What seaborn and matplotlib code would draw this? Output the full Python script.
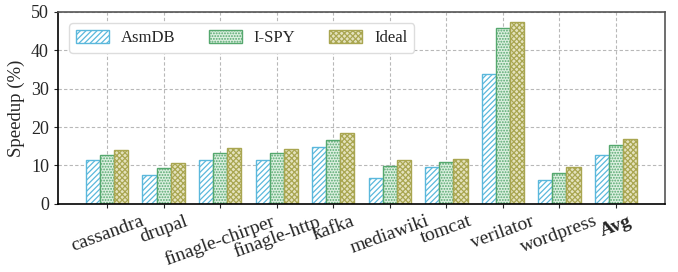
import pandas as pd
import matplotlib
matplotlib.use('Agg')
import matplotlib.pyplot as plt
import seaborn as sns

# --- data ---
benchmarks = ['cassandra', 'drupal', 'finagle-chirper', 'finagle-http', 'kafka',
              'mediawiki', 'tomcat', 'verilator', 'wordpress', 'Avg']
asmdb = [11.4, 7.4, 11.3, 11.5, 14.9, 6.8, 9.6, 33.8, 6.3, 12.6]
ispy = [12.6, 9.4, 13.2, 13.1, 16.7, 9.8, 10.9, 45.7, 8.1, 15.4]
ideal = [13.9, 10.5, 14.6, 14.4, 18.5, 11.3, 11.7, 47.4, 9.5, 16.8]
schemes = ['AsmDB', 'I-SPY', 'Ideal']

edge_colors = ['#5bb8dc', '#55a86e', '#a9a651']
face_colors = ['white', '#dcefe0', '#e4e2bd']
hatches = ['//////', '......', 'xxxxxx']

df = pd.DataFrame({
    'benchmark': benchmarks * 3,
    'scheme': [s for s in schemes for _ in benchmarks],
    'speedup': asmdb + ispy + ideal,
})

sns.set_style('whitegrid')
plt.rcParams['font.family'] = ['Liberation Serif', 'DejaVu Serif']
plt.rcParams['hatch.linewidth'] = 0.9

fig = plt.figure(figsize=(6.78, 2.72), dpi=100)
ax = fig.add_axes([0.0855, 0.251, 0.8955, 0.705])

sns.barplot(data=df, x='benchmark', y='speedup', hue='scheme', order=benchmarks,
            hue_order=schemes, width=0.75, ax=ax, errorbar=None, legend=False)

for i, cont in enumerate(ax.containers):
    for bar in cont:
        bar.set_facecolor(face_colors[i])
        bar.set_edgecolor(edge_colors[i])
        bar.set_hatch(hatches[i])
        bar.set_linewidth(1.0)

ax.set_ylim(0, 50)
ax.set_xlim(-0.87, 9.87)
ax.set_yticks([0, 10, 20, 30, 40, 50])
ax.set_ylabel('Speedup (%)', fontsize=13.5)
ax.set_xlabel('')
ax.tick_params(axis='y', labelsize=13, length=3, left=True)
ax.tick_params(axis='x', labelsize=14, length=3, bottom=True)
ax.set_xticks(range(len(benchmarks)))
ax.set_xticklabels(benchmarks, rotation=20, ha='center')
ax.get_xticklabels()[-1].set_fontweight('bold')

ax.grid(True, color='#b8b8b8', linestyle=(0, (3, 2)), linewidth=0.8)
for side in ['left', 'bottom']:
    ax.spines[side].set_color('black')
    ax.spines[side].set_linewidth(1.2)
for side in ['top', 'right']:
    ax.spines[side].set_color('#555555')
    ax.spines[side].set_linewidth(1.2)

handles = [cont.patches[0] for cont in ax.containers]
ax.legend(handles, schemes, loc='upper left', ncol=3, fontsize=12, frameon=True,
          handlelength=2.0, handleheight=0.8, handletextpad=0.7, columnspacing=2.0,
          bbox_to_anchor=(0.005, 0.985), edgecolor='#dddddd', framealpha=1)

fig.savefig('out.png', dpi=100)
